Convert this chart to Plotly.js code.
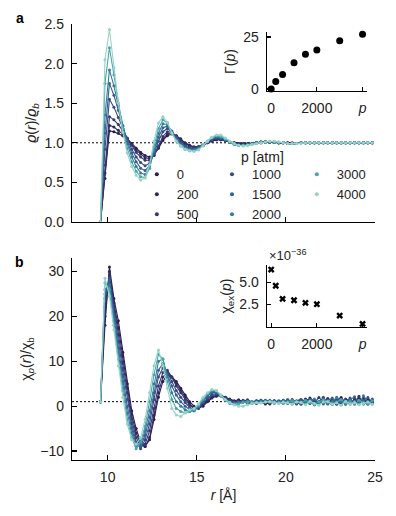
<!DOCTYPE html>
<html>
<head>
<meta charset="utf-8">
<script src="https://cdn.plot.ly/plotly-3.0.1.min.js"></script>
<style>
  html, body { margin: 0; padding: 0; background: white; }
  #plot { width: 396px; height: 516px; }
</style>
</head>
<body>
<div id="plot"></div>
<script>
// pressures (atm) and colours, dark -> light
var pressures = [0, 200, 500, 1000, 1500, 2000, 3000, 4000];
var colors = ['#2b1c4e', '#30275f', '#38356f', '#374a84', '#34618f', '#367a9c', '#4aa5ab', '#95d3c6'];

// radial grid (Angstrom)
var r = [9.6, 9.85, 10.1, 10.35, 10.6, 10.85, 11.1, 11.35, 11.6, 11.85,
  12.1, 12.35, 12.6, 12.85, 13.1, 13.35, 13.6, 13.85, 14.1, 14.35,
  14.6, 14.85, 15.1, 15.35, 15.6, 15.85, 16.1, 16.35, 16.6, 16.85,
  17.1, 17.35, 17.6, 17.85, 18.1, 18.35, 18.6, 18.85, 19.1, 19.35,
  19.6, 19.85, 20.1, 20.35, 20.6, 20.85, 21.1, 21.35, 21.6, 21.85,
  22.1, 22.35, 22.6, 22.85, 23.1, 23.35, 23.6, 23.85, 24.1, 24.35, 24.6, 24.85];

// panel a: density profiles rho(r)/rho_b
var rho0 = [0, 0.55, 1.15, 1.14, 1.12, 1.09, 1.05, 0.99, 0.93, 0.88,
  0.84, 0.82, 0.85, 0.93, 1.03, 1.09, 1.11, 1.09, 1.05, 1.0,
  0.97, 0.95, 0.95, 0.97, 1.0, 1.02, 1.04, 1.04, 1.03, 1.01,
  1.0, 0.99, 0.99, 0.99, 0.99, 1.0, 1.0, 1.01, 1.01, 1.01,
  1.0, 1.0, 1.0, 1.0, 0.99, 1.0, 1.0, 1.0, 1.0, 1.0,
  1.0, 1.0, 1.0, 1.0, 1.0, 1.0, 1.0, 1.0, 1.0, 1.0, 1.0, 1.0];
var rho200 = [0, 0.62, 1.22, 1.2, 1.16, 1.11, 1.05, 0.98, 0.91, 0.86,
  0.81, 0.8, 0.84, 0.94, 1.05, 1.11, 1.12, 1.09, 1.04, 0.99,
  0.96, 0.94, 0.95, 0.97, 1.0, 1.03, 1.04, 1.04, 1.03, 1.01,
  1.0, 0.99, 0.98, 0.98, 0.99, 1.0, 1.0, 1.01, 1.01, 1.01,
  1.0, 1.0, 1.0, 0.99, 0.99, 1.0, 1.0, 1.0, 1.0, 1.0,
  1.0, 1.0, 1.0, 1.0, 1.0, 1.0, 1.0, 1.0, 1.0, 1.0, 1.0, 1.0];
var rho500 = [0, 0.72, 1.33, 1.29, 1.23, 1.15, 1.06, 0.97, 0.88, 0.82,
  0.78, 0.78, 0.84, 0.96, 1.08, 1.14, 1.13, 1.08, 1.02, 0.97,
  0.95, 0.94, 0.95, 0.97, 1.01, 1.03, 1.05, 1.05, 1.03, 1.01,
  0.99, 0.98, 0.98, 0.98, 0.99, 1.0, 1.01, 1.01, 1.01, 1.01,
  1.0, 1.0, 0.99, 0.99, 0.99, 1.0, 1.0, 1.0, 1.0, 1.0,
  1.0, 1.0, 1.0, 1.0, 1.0, 1.0, 1.0, 1.0, 1.0, 1.0, 1.0, 1.0];
var rho1000 = [0, 0.92, 1.55, 1.45, 1.32, 1.18, 1.04, 0.92, 0.82, 0.75,
  0.71, 0.74, 0.86, 1.02, 1.14, 1.18, 1.14, 1.07, 1.0, 0.96,
  0.93, 0.93, 0.94, 0.97, 1.01, 1.04, 1.06, 1.05, 1.03, 1.01,
  0.99, 0.98, 0.97, 0.98, 0.99, 1.0, 1.01, 1.01, 1.01, 1.01,
  1.0, 1.0, 0.99, 0.99, 0.99, 1.0, 1.0, 1.0, 1.0, 1.0,
  1.0, 1.0, 1.0, 1.0, 1.0, 1.0, 1.0, 1.0, 1.0, 1.0, 1.0, 1.0];
var rho1500 = [0, 1.12, 1.75, 1.6, 1.41, 1.21, 1.02, 0.87, 0.76, 0.68,
  0.65, 0.71, 0.88, 1.07, 1.19, 1.21, 1.15, 1.06, 0.99, 0.95,
  0.92, 0.92, 0.93, 0.97, 1.01, 1.05, 1.07, 1.06, 1.04, 1.01,
  0.99, 0.97, 0.97, 0.98, 0.99, 1.0, 1.01, 1.01, 1.01, 1.01,
  1.0, 1.0, 0.99, 0.99, 0.99, 1.0, 1.0, 1.0, 1.0, 1.0,
  1.0, 1.0, 1.0, 1.0, 1.0, 1.0, 1.0, 1.0, 1.0, 1.0, 1.0, 1.0];
var rho2000 = [0, 1.35, 1.92, 1.72, 1.47, 1.22, 0.99, 0.82, 0.7, 0.62,
  0.6, 0.68, 0.9, 1.12, 1.24, 1.23, 1.14, 1.04, 0.97, 0.93,
  0.91, 0.91, 0.93, 0.97, 1.02, 1.06, 1.08, 1.07, 1.04, 1.01,
  0.98, 0.97, 0.97, 0.98, 0.99, 1.0, 1.01, 1.02, 1.01, 1.01,
  1.0, 1.0, 0.99, 0.99, 0.99, 1.0, 1.0, 1.0, 1.0, 1.0,
  1.0, 1.0, 1.0, 1.0, 1.0, 1.0, 1.0, 1.0, 1.0, 1.0, 1.0, 1.0];
var rho3000 = [0, 1.75, 2.2, 1.86, 1.5, 1.18, 0.93, 0.76, 0.64, 0.57,
  0.56, 0.68, 0.95, 1.18, 1.29, 1.25, 1.13, 1.03, 0.96, 0.92,
  0.9, 0.9, 0.92, 0.97, 1.02, 1.07, 1.09, 1.08, 1.05, 1.01,
  0.98, 0.97, 0.97, 0.97, 0.98, 0.99, 1.0, 1.01, 1.02, 1.01,
  1.01, 1.0, 0.99, 0.99, 0.99, 1.0, 1.0, 1.0, 1.0, 1.0,
  1.0, 1.0, 1.0, 1.0, 1.0, 1.0, 1.0, 1.0, 1.0, 1.0, 1.0, 1.0];
var rho4000 = [0, 2.05, 2.43, 1.95, 1.5, 1.13, 0.87, 0.7, 0.59, 0.53,
  0.56, 0.72, 1.02, 1.25, 1.33, 1.26, 1.12, 1.02, 0.96, 0.92,
  0.9, 0.89, 0.91, 0.96, 1.02, 1.07, 1.1, 1.1, 1.06, 1.02,
  0.99, 0.97, 0.96, 0.97, 0.98, 0.99, 1.0, 1.01, 1.02, 1.02,
  1.01, 1.0, 0.99, 0.99, 0.99, 0.99, 1.0, 1.0, 1.0, 1.0,
  1.0, 1.0, 1.0, 1.0, 1.0, 1.0, 1.0, 1.0, 1.0, 1.0, 1.0, 1.0];

// panel b: chi_p(r)/chi_b
var chi0 = [1, 18, 31, 24, 19, 12, 5, -1, -5, -8,
  -9, -7.5, -3, 2, 5.5, 7, 6.5, 5.5, 4, 2.5,
  1, 0, -0.5, 0, 1, 1.8, 2.2, 2.3, 2, 1.6,
  1.2, 1.4, 1.0, 0.6, 0.8, 1.2, 0.9, 0.5, 0.7, 1.1,
  0.8, 1.3, 0.9, 0.6, 1.0, 1.4, 0.7, 1.8, 1.1, 0.6,
  1.5, 0.9, 0.4, 1.2, 1.9, 0.8, 1.3, 0.6, 1.7, 1.0, 1.5, 0.7];
var chi200 = [1, 20, 30, 23, 17.5, 11, 4, -2, -6, -8.5,
  -9, -7, -2, 3, 6.5, 7.5, 6.5, 5, 3.5, 2,
  0.5, -0.3, -0.3, 0.3, 1.2, 2, 2.4, 2.4, 2, 1.5,
  1.1, 0.9, 1.3, 0.8, 0.6, 1.1, 1.3, 0.9, 0.5, 1.2,
  1.0, 0.7, 1.4, 1.1, 0.5, 0.9, 1.6, 1.2, 0.3, 1.0,
  0.8, 1.7, 1.1, 0.4, 1.3, 1.0, 0.5, 1.6, 0.9, 1.8, 0.6, 1.2];
var chi500 = [1, 22, 29, 22, 16, 9.5, 3, -3, -7, -9,
  -8.5, -5.5, -0.5, 4.5, 7.5, 8, 6.5, 4.5, 3, 1.5,
  0.2, -0.5, -0.2, 0.6, 1.5, 2.3, 2.6, 2.4, 1.9, 1.4,
  1.0, 0.8, 1.1, 1.4, 0.9, 0.6, 1.0, 1.3, 1.1, 0.7,
  1.2, 1.0, 0.6, 1.5, 0.9, 0.4, 1.1, 1.4, 0.8, 1.9,
  1.0, 0.5, 1.4, 0.9, 0.3, 1.6, 1.2, 0.8, 2.2, 0.5, 1.1, 1.4];
var chi1000 = [1, 24, 28.5, 21, 14.5, 8, 1.5, -4, -8, -9.5,
  -7.5, -4, 1.5, 6.5, 8.5, 7.5, 5.5, 3.5, 2, 0.8,
  -0.3, -0.8, -0.3, 0.8, 1.8, 2.6, 2.8, 2.3, 1.7, 1.2,
  0.9, 0.9, 1.2, 1.0, 0.7, 0.9, 1.3, 1.0, 0.8, 1.2,
  0.9, 1.3, 0.8, 0.5, 1.2, 1.5, 0.9, 0.6, 1.3, 0.8,
  2.0, 0.7, 1.1, 1.5, 0.6, 0.9, 1.8, 0.5, 1.2, 0.9, 1.9, 0.8];
var chi1500 = [1, 25, 28, 20, 13, 6.5, 0, -5, -8.5, -9,
  -6.5, -2.5, 3, 8, 9.5, 7, 4.5, 2.5, 1, 0,
  -0.8, -1, -0.2, 1, 2.2, 3, 3, 2.3, 1.5, 1.0,
  0.7, 0.9, 1.1, 0.8, 1.0, 1.2, 0.8, 0.9, 1.3, 1.0,
  0.7, 1.1, 1.4, 0.9, 0.6, 1.2, 1.0, 1.5, 0.7, 1.1,
  0.5, 1.3, 1.8, 0.9, 1.0, 0.4, 1.4, 2.1, 0.7, 1.3, 0.4, 1.6];
var chi2000 = [1, 26, 27, 19, 12, 5, -1.5, -6, -9, -8.5,
  -5.5, -1, 5, 10, 10.5, 6.5, 3, 1, 0, -0.8,
  -1.2, -1, 0, 1.3, 2.5, 3.3, 3.2, 2.3, 1.4, 0.8,
  0.6, 0.8, 1.0, 1.1, 0.9, 0.8, 1.1, 1.2, 0.9, 0.7,
  1.0, 1.2, 0.9, 1.3, 0.8, 1.0, 0.6, 1.2, 1.6, 0.7,
  1.3, 0.6, 1.0, 2.0, 1.1, 0.5, 1.3, 1.0, 0.4, 2.3, 1.0, 0.5];
var chi3000 = [1, 27.5, 26, 18, 10.5, 3.5, -3, -7, -9.5, -8,
  -4.5, 1, 7, 11.5, 10.5, 5.5, 1.5, -0.5, -1.2, -1.5,
  -1.2, -0.8, 0.2, 1.6, 2.8, 3.6, 3.4, 2.3, 1.3, 0.6,
  0.3, 0.5, 0.8, 1.0, 0.9, 0.7, 0.8, 1.0, 1.1, 0.9,
  0.8, 0.6, 1.0, 1.2, 0.9, 0.7, 1.3, 0.8, 0.3, 1.0,
  1.4, 1.1, 0.6, 0.9, 1.5, 0.7, 1.0, 0.5, 1.3, 0.8, 0.6, 1.2];
var chi4000 = [1, 28.5, 24.5, 17, 9, 2, -4, -7.5, -8.5, -7,
  -3, 3, 9, 12.5, 9, 4, -0.5, -2, -2.3, -1.5,
  -0.8, -0.5, 0.5, 2, 3, 3.7, 3.5, 2.5, 1.5, 0.8,
  0.3, 0, 0, 0.3, 0.6, 0.8, 0.7, 0.9, 1.0, 0.8,
  0.6, 0.9, 0.7, 0.5, 1.0, 0.8, 0.3, 1.1, 0.6, 0.2,
  0.9, 1.0, 0.4, 0.7, 0.2, 1.1, 0.5, 0.8, 0.3, 0.6, 0.9, 0.4];

// insets
var gamma = [0, 3.6, 6.9, 12.6, 16.7, 18.7, 23.2, 26.3];
var chiEx = [6.45, 4.6, 3.1, 2.95, 2.65, 2.5, 1.2, 0.25]; // x 1e-36

var rhoSeries = [rho0, rho200, rho500, rho1000, rho1500, rho2000, rho3000, rho4000];
var chiSeries = [chi0, chi200, chi500, chi1000, chi1500, chi2000, chi3000, chi4000];

var FONT = 'Liberation Sans, Arial, sans-serif';
var traces = [];

for (var i = 0; i < pressures.length; i++) {
  traces.push({
    x: r, y: rhoSeries[i], xaxis: 'x', yaxis: 'y',
    type: 'scatter', mode: 'lines+markers', showlegend: false,
    line: {color: colors[i], width: 1.1},
    marker: {color: colors[i], size: 3}
  });
}
for (var i = 0; i < pressures.length; i++) {
  traces.push({
    x: r, y: chiSeries[i], xaxis: 'x2', yaxis: 'y2',
    type: 'scatter', mode: 'lines+markers', showlegend: false,
    line: {color: colors[i], width: 1.1},
    marker: {color: colors[i], size: 3}
  });
}

// legend entries, three columns
var legendOf = ['legend', 'legend', 'legend', 'legend2', 'legend2', 'legend2', 'legend3', 'legend3'];
for (var i = 0; i < pressures.length; i++) {
  traces.push({
    x: [null], y: [null], xaxis: 'x', yaxis: 'y',
    type: 'scatter', mode: 'markers', name: String(pressures[i]),
    legend: legendOf[i], showlegend: true,
    marker: {color: colors[i], size: 4}
  });
}

traces.push({
  x: pressures, y: gamma, xaxis: 'x3', yaxis: 'y3',
  type: 'scatter', mode: 'markers', showlegend: false,
  marker: {color: 'black', size: 7}, cliponaxis: false
});
traces.push({
  x: pressures, y: chiEx, xaxis: 'x4', yaxis: 'y4',
  type: 'scatter', mode: 'markers', showlegend: false,
  marker: {color: 'black', size: 6, symbol: 'x'}, cliponaxis: false
});

var axisBase = {
  showline: true, linecolor: 'black', linewidth: 1.2,
  ticks: 'inside', ticklen: 5, tickwidth: 1.2, tickcolor: 'black',
  showgrid: false, zeroline: false, ticklabelstandoff: 4,
  tickfont: {family: FONT, size: 14, color: '#222'}
};
function ax(extra) { return Object.assign({}, axisBase, extra); }

var legendBase = {
  bgcolor: 'rgba(0,0,0,0)', font: {family: FONT, size: 13, color: '#222'},
  xanchor: 'left', yanchor: 'top', itemwidth: 30, tracegroupgap: 0
};

var layout = {
  width: 396, height: 516,
  margin: {l: 72, r: 21, t: 10, b: 56},
  paper_bgcolor: 'white', plot_bgcolor: 'rgba(0,0,0,0)',
  font: {family: FONT, size: 14, color: '#222'},
  xaxis: ax({domain: [0, 1], anchor: 'y', range: [8, 25], tickvals: [10, 15, 20, 25], showticklabels: false}),
  yaxis: ax({domain: [0.5289, 0.9689], anchor: 'x', range: [0, 2.5], tickvals: [0, 0.5, 1, 1.5, 2, 2.5], tickformat: '.1f',
    title: {text: '<i>ϱ</i>(<i>r</i>)/<i>ϱ</i><sub><i>b</i></sub>', standoff: 4, font: {family: FONT, size: 14}}}),
  xaxis2: ax({domain: [0, 1], anchor: 'y2', range: [8, 25], tickvals: [10, 15, 20, 25],
    title: {text: '<i>r</i> [Å]', standoff: 6, font: {family: FONT, size: 14}}}),
  yaxis2: ax({domain: [0, 0.4489], anchor: 'x2', range: [-12, 33], tickvals: [-10, 0, 10, 20, 30],
    title: {text: 'χ<sub><i>p</i></sub>(<i>r</i>)/χ<sub>b</sub>', standoff: 5, font: {family: FONT, size: 14}}}),
  xaxis3: ax({domain: [0.643, 0.974], anchor: 'y3', range: [-190, 4200], tickvals: [0, 2000, 4000],
    ticktext: ['0', '2000', '<i>p</i>'], ticklen: 4}),
  yaxis3: ax({domain: [0.82, 0.951], anchor: 'x3', range: [-1, 27.4], tickvals: [0, 25], ticklen: 4,
    title: {text: 'Γ(<i>p</i>)', standoff: 4, font: {family: FONT, size: 14}}}),
  xaxis4: ax({domain: [0.643, 0.974], anchor: 'y4', range: [-190, 4200], tickvals: [0, 2000, 4000],
    ticktext: ['0', '2000', '<i>p</i>'], ticklen: 4}),
  yaxis4: ax({domain: [0.2956, 0.433], anchor: 'x4', range: [-0.1, 6.95], tickvals: [2.5, 5], tickformat: '.1f', ticklen: 4,
    title: {text: 'χ<sub>ex</sub>(<i>p</i>)', standoff: 4, font: {family: FONT, size: 14}}}),
  showlegend: true,
  legend: Object.assign({}, legendBase, {x: 0.214, y: 0.668}),
  legend2: Object.assign({}, legendBase, {x: 0.462, y: 0.668}),
  legend3: Object.assign({}, legendBase, {x: 0.742, y: 0.668}),
  shapes: [
    {type: 'line', xref: 'x', yref: 'y', x0: 8, x1: 25, y0: 1, y1: 1, layer: 'below',
      line: {color: 'black', width: 1, dash: '2px,2px'}},
    {type: 'line', xref: 'x2', yref: 'y2', x0: 8, x1: 25, y0: 1, y1: 1, layer: 'below',
      line: {color: 'black', width: 1, dash: '2px,2px'}}
  ],
  annotations: [
    {text: '<b>a</b>', xref: 'paper', yref: 'paper', x: -0.172, y: 0.982, showarrow: false,
      xanchor: 'center', yanchor: 'middle', font: {family: FONT, size: 14, color: 'black'}},
    {text: '<b>b</b>', xref: 'paper', yref: 'paper', x: -0.172, y: 0.44, showarrow: false,
      xanchor: 'center', yanchor: 'middle', font: {family: FONT, size: 14, color: 'black'}},
    {text: 'p [atm]', xref: 'paper', yref: 'paper', x: 0.63, y: 0.673, showarrow: false,
      xanchor: 'center', yanchor: 'middle', font: {family: FONT, size: 14, color: '#222'}},
    {text: '×10<sup>−36</sup>', xref: 'paper', yref: 'paper', x: 0.645, y: 0.456, showarrow: false,
      xanchor: 'left', yanchor: 'middle', font: {family: FONT, size: 13, color: '#222'}}
  ]
};

Plotly.newPlot('plot', traces, layout, {displayModeBar: false, staticPlot: true});
</script>
</body>
</html>
